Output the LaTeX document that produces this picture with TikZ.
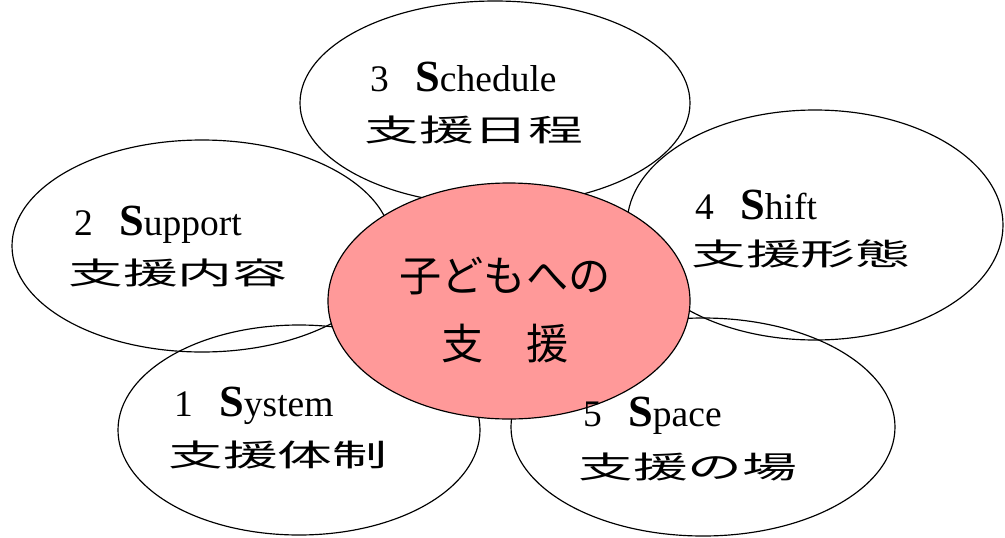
\documentclass[tikz,border=0pt]{standalone}
\usepackage{fontspec}
\setmainfont{Liberation Serif}
\newfontfamily\jp{Noto Sans CJK JP}
\usetikzlibrary{shapes.geometric}
\definecolor{petalpink}{RGB}{255,153,153}
\tikzset{
  petal/.style={draw, ellipse, line width=1pt, inner sep=0pt},
  label/.style={anchor=west, align=left, inner sep=0pt}
}
\newcommand{\headline}[2]{\fontsize{32}{36}\selectfont #1\hspace{0.7em}{\fontsize{38}{36}\selectfont\bfseries S}#2}
\newcommand{\kanji}[1]{\scalebox{1.8}[1]{\fontsize{26}{30}\jp #1}}
\begin{document}
\begin{tikzpicture}[x=0.3mm, y=-0.3mm]
\useasboundingbox (0,0) rectangle (1005,537);

\node[petal, minimum width=117mm, minimum height=61.2mm] (schedule) at (495,103) {};
\node[petal, minimum width=114mm, minimum height=63.6mm] (support) at (202,246) {};
\node[petal, minimum width=112.8mm, minimum height=69mm] (shift) at (815,225) {};
\node[petal, minimum width=108.6mm, minimum height=63mm] (system) at (299,430) {};
\node[petal, minimum width=115.2mm, minimum height=65.4mm] (space) at (703,427) {};
\node[petal, fill=petalpink, minimum width=108.6mm, minimum height=70.8mm] (child) at (509,301) {};

\node[label] (scheduletext) at (370,77) {\headline{3}{chedule}};
\node[label] (schedulejp) at (364,130) {\kanji{支援日程}};

\node[label] (supporttext) at (74,225) {\headline{2}{upport}};
\node[label] (supportjp) at (68,273) {\kanji{支援内容}};

\node[label] (shifttext) at (695,205) {\headline{4}{hift}};
\node[label] (shiftjp) at (691,254) {\kanji{支援形態}};

\node[label] (systemtext) at (174,406) {\headline{1}{ystem}};
\node[label] (systemjp) at (168,455) {\kanji{支援体制}};

\node[label] (spacetext) at (583,416) {\headline{5}{pace}};
\node[label] (spacejp) at (578,467) {\kanji{支援の場}};

\node[align=center, inner sep=0pt, font=\jp\fontsize{36}{58}\selectfont] (childtext) at (505,310) {子どもへの\\支　援};
\end{tikzpicture}
\end{document}
